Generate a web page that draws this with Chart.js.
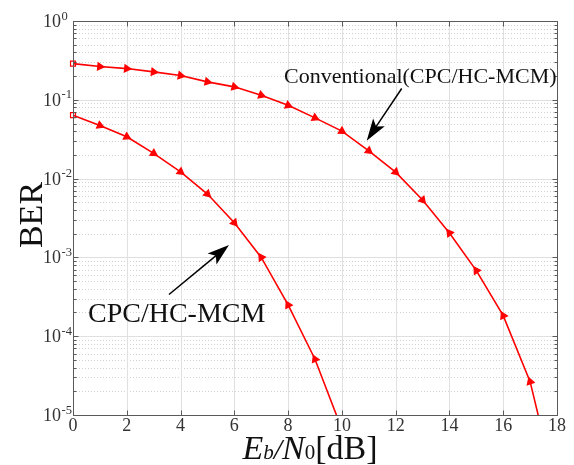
<!DOCTYPE html>
<html><head><meta charset="utf-8">
<script src="https://cdn.jsdelivr.net/npm/chart.js@4/dist/chart.umd.min.js"></script>
<style>html,body{margin:0;padding:0;background:#fff;overflow:hidden}</style>
</head><body>
<canvas id="c" width="574" height="465"></canvas>
<script>
// ---------- data ----------
const ebn0 = [0,1,2,3,4,5,6,7,8,9,10,11,12,13,14,15,16,17];
const conventional = [0.288,0.264,0.249,0.226,0.203,0.169,0.146,0.114,0.085,0.059,0.040,0.0225,0.0121,0.00534,0.00204,0.00068,0.000182,0.0000265];
const cpcHc = [0.0638,0.0472,0.0339,0.0209,0.0122,0.00637,0.00275,0.00100,0.000249,0.000051];
// curve continuations below the plotted range (no marker)
const conventionalTail = [{x:17.5, y:0.0000052}];
const cpcHcTail = [{x:10, y:0.0000066}];
const xTickValues = [0,2,4,6,8,10,12,14,16,18];
const yTickExponents = [0,-1,-2,-3,-4,-5];
const seriesLabels = ['Conventional(CPC/HC-MCM)','CPC/HC-MCM'];
const yTitle = 'BER';

// ---------- build ----------
function toPoints(xs, ys, tail){
  const pts = ys.map((v,i)=>({x:xs[i], y:v}));
  return pts.concat(tail);
}
const RED = '#ff0000';
const SERIF = '"Liberation Serif", "DejaVu Serif", serif';

function markerRotation(ctx){
  const chart = ctx.chart, i = ctx.dataIndex;
  if (i === 0) return 0;
  const d = chart.data.datasets[ctx.datasetIndex].data;
  const xs = chart.scales.x, ys = chart.scales.y;
  if (!xs || !ys) return 90;
  const a = d[Math.max(i-1,0)], b = d[Math.min(i+1,d.length-1)];
  const dx = xs.getPixelForValue(b.x) - xs.getPixelForValue(a.x);
  const dy = ys.getPixelForValue(b.y) - ys.getPixelForValue(a.y);
  let ang = Math.atan2(dy, dx) * 180 / Math.PI;
  if (!isFinite(ang)) return 90;
  let rot = ang + 90;
  if (ang > 50) rot += 180;
  return rot;
}

function makeDataset(label, ys, tail){
  const n = ys.length;
  return {
    label,
    data: toPoints(ebn0, ys, tail),
    borderColor: RED,
    borderWidth: 1.6,
    tension: 0,
    pointStyle: c => c.dataIndex === 0 ? 'rect' : 'triangle',
    pointRadius: c => c.dataIndex >= n ? 0 : (c.dataIndex === 0 ? 3.5 : 4.2),
    pointBackgroundColor: c => c.dataIndex === 0 ? 'rgba(255,255,255,0)' : RED,
    pointBorderColor: RED,
    pointBorderWidth: 1.2,
    pointRotation: markerRotation,
    pointHoverRadius: 0,
    clip: {left: 8, right: 0, top: 0, bottom: 0}
  };
}

function minorValues(){
  const out = [];
  for (let e = -5; e < 0; e++) for (let m = 2; m <= 9; m++) out.push(m * Math.pow(10, e));
  return out;
}

const decor = {
  id: 'decor',
  beforeDatasetsDraw(chart){
    const {ctx, chartArea: a, scales: {x, y}} = chart;
    ctx.save();
    // minor dotted grid
    ctx.strokeStyle = '#d2d2d2'; ctx.lineWidth = 1; ctx.setLineDash([1,2]);
    minorValues().forEach(v => {
      const py = Math.round(y.getPixelForValue(v)) + 0.5;
      ctx.beginPath(); ctx.moveTo(a.left, py); ctx.lineTo(a.right, py); ctx.stroke();
    });
    ctx.setLineDash([]);
    // major grid
    ctx.strokeStyle = '#e0e0e0';
    yTickExponents.forEach(e => {
      const py = Math.round(y.getPixelForValue(Math.pow(10, e))) + 0.5;
      ctx.beginPath(); ctx.moveTo(a.left, py); ctx.lineTo(a.right, py); ctx.stroke();
    });
    xTickValues.forEach(v => {
      const px = Math.round(x.getPixelForValue(v)) + 0.5;
      ctx.beginPath(); ctx.moveTo(px, a.top); ctx.lineTo(px, a.bottom); ctx.stroke();
    });
    ctx.restore();
  },
  afterDatasetsDraw(chart){
    const {ctx, chartArea: a, scales: {x, y}} = chart;
    ctx.save();
    const L = Math.round(a.left)+0.5, R = Math.round(a.right)+0.5, T = Math.round(a.top)+0.5, B = Math.round(a.bottom)+0.5;
    ctx.strokeStyle = '#5a5a5a'; ctx.lineWidth = 1;
    ctx.strokeRect(L, T, R-L, B-T);
    // ticks
    ctx.beginPath();
    xTickValues.forEach(v => {
      const px = Math.round(x.getPixelForValue(v)) + 0.5;
      ctx.moveTo(px, B); ctx.lineTo(px, B-5);
      ctx.moveTo(px, T); ctx.lineTo(px, T+5);
    });
    yTickExponents.forEach(e => {
      const py = Math.round(y.getPixelForValue(Math.pow(10, e))) + 0.5;
      ctx.moveTo(L, py); ctx.lineTo(L+5, py);
      ctx.moveTo(R, py); ctx.lineTo(R-5, py);
    });
    minorValues().forEach(v => {
      const py = Math.round(y.getPixelForValue(v)) + 0.5;
      ctx.moveTo(L, py); ctx.lineTo(L+3, py);
      ctx.moveTo(R, py); ctx.lineTo(R-3, py);
    });
    ctx.stroke();

    // tick labels
    ctx.fillStyle = '#333';
    ctx.textBaseline = 'alphabetic';
    xTickValues.forEach(v => {
      ctx.font = '18px ' + SERIF; ctx.textAlign = 'center';
      ctx.fillText(String(v), x.getPixelForValue(v), 431);
    });
    yTickExponents.forEach(e => {
      const py = y.getPixelForValue(Math.pow(10, e));
      ctx.textAlign = 'left';
      ctx.font = '18px ' + SERIF;
      ctx.fillText('10', 43, py + 6);
      const w = ctx.measureText('10').width;
      ctx.font = '12.5px ' + SERIF;
      ctx.fillText(String(e), 43 + w + 0.5, py - 1.5);
    });

    // axis titles
    ctx.fillStyle = '#111';
    const parts = [
      {t:'E', f:'italic 34px ' + SERIF},
      {t:'b', f:'italic 21px ' + SERIF},
      {t:'/', f:'italic 30px ' + SERIF},
      {t:'N', f:'italic 34px ' + SERIF},
      {t:'0', f:'21px ' + SERIF},
      {t:'[dB]', f:'34px ' + SERIF}
    ];
    let total = 0;
    parts.forEach(p => { ctx.font = p.f; p.w = ctx.measureText(p.t).width; total += p.w; });
    let cx = 310 - total/2;
    ctx.textAlign = 'left';
    parts.forEach(p => { ctx.font = p.f; ctx.fillText(p.t, cx, 459); cx += p.w; });
    ctx.save();
    ctx.translate(42, 215); ctx.rotate(-Math.PI/2);
    ctx.font = '34px ' + SERIF; ctx.textAlign = 'center';
    ctx.fillText(yTitle, 0, 0);
    ctx.restore();

    // annotations
    ctx.fillStyle = '#111';
    ctx.font = '22px ' + SERIF; ctx.textAlign = 'left';
    ctx.fillText(seriesLabels[0], 284, 83);
    ctx.font = '28px ' + SERIF;
    ctx.fillText(seriesLabels[1], 88, 322);
    drawArrow(ctx, 401.7, 88.5, 366.7, 140.7);
    drawArrow(ctx, 169, 294.5, 229, 245);
    ctx.restore();
  }
};

function drawArrow(ctx, x1, y1, x2, y2){
  const ang = Math.atan2(y2-y1, x2-x1);
  const len = 22, hw = 7;
  const bx = x2 - len*Math.cos(ang), by = y2 - len*Math.sin(ang);
  ctx.save();
  ctx.strokeStyle = '#000'; ctx.fillStyle = '#000'; ctx.lineWidth = 1.5;
  ctx.beginPath(); ctx.moveTo(x1, y1); ctx.lineTo(bx + 6*Math.cos(ang), by + 6*Math.sin(ang)); ctx.stroke();
  const nx = -Math.sin(ang), ny = Math.cos(ang);
  const ix = x2 - (len-5)*Math.cos(ang), iy = y2 - (len-5)*Math.sin(ang);
  ctx.beginPath();
  ctx.moveTo(x2, y2);
  ctx.lineTo(bx + nx*hw, by + ny*hw);
  ctx.lineTo(ix, iy);
  ctx.lineTo(bx - nx*hw, by - ny*hw);
  ctx.closePath(); ctx.fill();
  ctx.restore();
}

new Chart(document.getElementById('c'), {
  type: 'line',
  data: {
    datasets: [
      makeDataset(seriesLabels[0], conventional, conventionalTail),
      makeDataset(seriesLabels[1], cpcHc, cpcHcTail)
    ]
  },
  options: {
    responsive: false,
    devicePixelRatio: 1,
    animation: false,
    events: [],
    layout: {padding: {left: 73, right: 17, top: 21, bottom: 50}},
    plugins: {legend: {display: false}, tooltip: {enabled: false}},
    scales: {
      x: {type: 'linear', min: 0, max: 18, display: false},
      y: {type: 'logarithmic', min: 1e-5, max: 1, display: false}
    }
  },
  plugins: [decor]
});
</script>
</body></html>
